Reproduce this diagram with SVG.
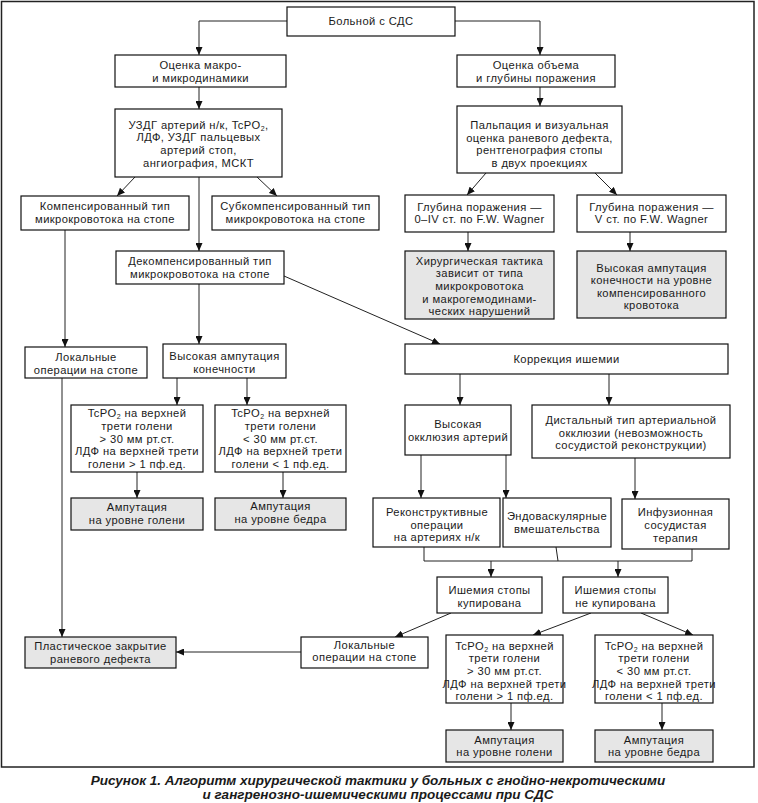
<svg xmlns="http://www.w3.org/2000/svg" width="758" height="803" viewBox="0 0 758 803">
<style>
.b{fill:#fff;stroke:#111;stroke-width:1.2}
.g{fill:#e6e6e6;stroke:#111;stroke-width:1.2}
text{font-family:"Liberation Sans",Arial,sans-serif;font-size:11.2px;letter-spacing:0.4px;fill:#1a1a1a;text-anchor:middle}
.s{font-size:7px}
.c{fill:none;stroke:#222;stroke-width:1}
.cap{font-weight:bold;font-style:italic;font-size:13.5px;letter-spacing:0}
</style>
<defs>
<marker id="a" viewBox="0 0 8 7" markerWidth="8" markerHeight="7" refX="8" refY="3.5" orient="auto" markerUnits="userSpaceOnUse">
<path d="M0,0 L8,3.5 L0,7 z" fill="#111"/>
</marker>
</defs>
<rect x="1.5" y="1.5" width="752.5" height="765.5" fill="#fff" stroke="#222" stroke-width="1.5"/>

<g id="connectors">
<polyline class="c" points="287,21 199,21 199,55" marker-end="url(#a)"/>
<polyline class="c" points="455,21 540,21 540,55" marker-end="url(#a)"/>
<line class="c" x1="199" y1="87" x2="199" y2="109" marker-end="url(#a)"/>
<line class="c" x1="540" y1="87" x2="540" y2="106" marker-end="url(#a)"/>
<line class="c" x1="135" y1="177" x2="117" y2="196" marker-end="url(#a)"/>
<line class="c" x1="257" y1="177" x2="277" y2="196" marker-end="url(#a)"/>
<line class="c" x1="199" y1="177" x2="199" y2="251" marker-end="url(#a)"/>
<line class="c" x1="486" y1="173" x2="467" y2="195" marker-end="url(#a)"/>
<line class="c" x1="595" y1="173" x2="617" y2="195" marker-end="url(#a)"/>
<line class="c" x1="468" y1="232" x2="468" y2="251" marker-end="url(#a)"/>
<line class="c" x1="630" y1="232" x2="630" y2="251" marker-end="url(#a)"/>
<line class="c" x1="65" y1="230" x2="65" y2="347" marker-end="url(#a)"/>
<line class="c" x1="199" y1="284" x2="199" y2="344" marker-end="url(#a)"/>
<line class="c" x1="284" y1="276" x2="440" y2="344" marker-end="url(#a)"/>
<line class="c" x1="460" y1="374" x2="460" y2="405" marker-end="url(#a)"/>
<line class="c" x1="609" y1="374" x2="609" y2="405" marker-end="url(#a)"/>
<line class="c" x1="177" y1="378" x2="177" y2="405" marker-end="url(#a)"/>
<line class="c" x1="247" y1="378" x2="247" y2="405" marker-end="url(#a)"/>
<line class="c" x1="137" y1="472" x2="137" y2="498" marker-end="url(#a)"/>
<line class="c" x1="283" y1="472" x2="283" y2="498" marker-end="url(#a)"/>
<line class="c" x1="421" y1="455" x2="421" y2="498" marker-end="url(#a)"/>
<line class="c" x1="506" y1="455" x2="506" y2="498" marker-end="url(#a)"/>
<line class="c" x1="635" y1="458" x2="635" y2="499" marker-end="url(#a)"/>
<polyline class="c" points="424,547 424,561 692,561 692,549"/>
<line class="c" x1="556" y1="547" x2="558" y2="561"/>
<line class="c" x1="491" y1="561" x2="491" y2="577" marker-end="url(#a)"/>
<line class="c" x1="618" y1="561" x2="618" y2="577" marker-end="url(#a)"/>
<line class="c" x1="451" y1="613" x2="395" y2="637" marker-end="url(#a)"/>
<line class="c" x1="591" y1="613" x2="533" y2="635" marker-end="url(#a)"/>
<line class="c" x1="641" y1="613" x2="693" y2="635" marker-end="url(#a)"/>
<line class="c" x1="301" y1="652" x2="176" y2="652" marker-end="url(#a)"/>
<line class="c" x1="62" y1="378" x2="62" y2="637" marker-end="url(#a)"/>
<line class="c" x1="511" y1="703" x2="511" y2="730" marker-end="url(#a)"/>
<line class="c" x1="662" y1="703" x2="662" y2="730" marker-end="url(#a)"/>
</g>

<g id="n1"><rect class="b" x="287" y="7" width="168" height="29"/><text x="371" y="25">Больной с СДС</text></g>
<g id="n2"><rect class="b" x="115" y="55" width="171" height="32"/><text x="200.5" y="69.2">Оценка макро-</text><text x="200.5" y="81.8">и микродинамики</text></g>
<g id="n3"><rect class="b" x="457" y="55" width="158" height="32"/><text x="536" y="69.2">Оценка объема</text><text x="536" y="81.8">и глубины поражения</text></g>
<g id="n4"><rect class="b" x="115" y="109" width="167" height="68"/>
<text x="198.5" y="128.8">УЗДГ артерий н/к, TcPO<tspan class="s" dy="2">2</tspan><tspan dy="-2">,</tspan></text>
<text x="198.5" y="141.4">ЛДФ, УЗДГ пальцевых</text>
<text x="198.5" y="154">артерий стоп,</text>
<text x="198.5" y="166.6">ангиография, МСКТ</text></g>
<g id="n5"><rect class="b" x="457" y="106" width="165" height="67"/>
<text x="539.5" y="129.1">Пальпация и визуальная</text>
<text x="539.5" y="141.7">оценка раневого дефекта,</text>
<text x="539.5" y="154.3">рентгенография стопы</text>
<text x="539.5" y="166.9">в двух проекциях</text></g>
<g id="n6"><rect class="b" x="21" y="196" width="168" height="34"/><text x="105" y="210.2">Компенсированный тип</text><text x="105" y="222.8">микрокровотока на стопе</text></g>
<g id="n7"><rect class="b" x="212" y="196" width="167" height="34"/><text x="295.5" y="210.2">Субкомпенсированный тип</text><text x="295.5" y="222.8">микрокровотока на стопе</text></g>
<g id="n8"><rect class="b" x="116" y="251" width="168" height="33"/><text x="200" y="265.2">Декомпенсированный тип</text><text x="200" y="277.8">микрокровотока на стопе</text></g>
<g id="n9"><rect class="b" x="405" y="195" width="149" height="37"/><text x="479.5" y="210.7">Глубина поражения —</text><text x="479.5" y="223.3">0–IV ст. по F.W. Wagner</text></g>
<g id="n10"><rect class="b" x="577" y="195" width="149" height="37"/><text x="651.5" y="210.7">Глубина поражения —</text><text x="651.5" y="223.3">V ст. по F.W. Wagner</text></g>
<g id="n11"><rect class="g" x="405" y="251" width="149" height="68"/>
<text x="479.5" y="264.8">Хирургическая тактика</text>
<text x="479.5" y="277.4">зависит от типа</text>
<text x="479.5" y="290">микрокровотока</text>
<text x="479.5" y="302.6">и макрогемодинами-</text>
<text x="479.5" y="315.2">ческих нарушений</text></g>
<g id="n12"><rect class="g" x="577" y="251" width="149" height="67"/>
<text x="651.5" y="271.6">Высокая ампутация</text>
<text x="651.5" y="284.2">конечности на уровне</text>
<text x="651.5" y="296.8">компенсированного</text>
<text x="651.5" y="309.4">кровотока</text></g>
<g id="n13"><rect class="b" x="25" y="347" width="122" height="31"/><text x="86" y="361.2">Локальные</text><text x="86" y="373.8">операции на стопе</text></g>
<g id="n14"><rect class="b" x="163" y="344" width="123" height="34"/><text x="224.5" y="360.2">Высокая ампутация</text><text x="224.5" y="372.8">конечности</text></g>
<g id="n15"><rect class="b" x="405" y="344" width="323" height="30"/><text x="566.5" y="363">Коррекция ишемии</text></g>
<g id="n16"><rect class="b" x="405" y="405" width="106" height="50"/><text x="458" y="428.2">Высокая</text><text x="458" y="440.8">окклюзия артерий</text></g>
<g id="n17"><rect class="b" x="532" y="405" width="198" height="53"/>
<text x="631" y="423.9">Дистальный тип артериальной</text>
<text x="631" y="436.5">окклюзии (невозможность</text>
<text x="631" y="449.1">сосудистой реконструкции)</text></g>
<g id="n18"><rect class="b" x="71" y="405" width="132" height="67"/>
<text x="137" y="417.3">TcPO<tspan class="s" dy="2">2</tspan><tspan dy="-2"> на верхней</tspan></text>
<text x="137" y="429.9">трети голени</text>
<text x="137" y="442.5">&gt; 30 мм рт.ст.</text>
<text x="137" y="455.1">ЛДФ на верхней трети</text>
<text x="137" y="467.7">голени &gt; 1 пф.ед.</text></g>
<g id="n19"><rect class="b" x="215" y="405" width="131" height="67"/>
<text x="280.5" y="417.3">TcPO<tspan class="s" dy="2">2</tspan><tspan dy="-2"> на верхней</tspan></text>
<text x="280.5" y="429.9">трети голени</text>
<text x="280.5" y="442.5">&lt; 30 мм рт.ст.</text>
<text x="280.5" y="455.1">ЛДФ на верхней трети</text>
<text x="280.5" y="467.7">голени &lt; 1 пф.ед.</text></g>
<g id="n20"><rect class="g" x="71" y="498" width="132" height="32"/><text x="137" y="511.2">Ампутация</text><text x="137" y="523.8">на уровне голени</text></g>
<g id="n21"><rect class="g" x="215" y="498" width="131" height="32"/><text x="280.5" y="510.2">Ампутация</text><text x="280.5" y="522.8">на уровне бедра</text></g>
<g id="n22"><rect class="b" x="373" y="498" width="127" height="49"/><text x="437" y="515.9">Реконструктивные</text><text x="437" y="528.5">операции</text><text x="437" y="541.1">на артериях н/к</text></g>
<g id="n23"><rect class="b" x="503" y="498" width="108" height="49"/><text x="557" y="520.2">Эндоваскулярные</text><text x="557" y="532.8">вмешательства</text></g>
<g id="n24"><rect class="b" x="622" y="499" width="107" height="50"/><text x="675.5" y="516.4">Инфузионная</text><text x="675.5" y="529">сосудистая</text><text x="675.5" y="541.6">терапия</text></g>
<g id="n25"><rect class="b" x="437" y="577" width="105" height="36"/><text x="489.5" y="594.2">Ишемия стопы</text><text x="489.5" y="606.8">купирована</text></g>
<g id="n26"><rect class="b" x="563" y="577" width="105" height="36"/><text x="615.5" y="594.2">Ишемия стопы</text><text x="615.5" y="606.8">не купирована</text></g>
<g id="n27"><rect class="b" x="301" y="637" width="127" height="31"/><text x="364.5" y="648.7">Локальные</text><text x="364.5" y="661.3">операции на стопе</text></g>
<g id="n28"><rect class="g" x="25" y="637" width="151" height="31"/><text x="100.5" y="650.2">Пластическое закрытие</text><text x="100.5" y="662.8">раневого дефекта</text></g>
<g id="n29"><rect class="b" x="446" y="635" width="117" height="68"/>
<text x="504.5" y="649.8">TcPO<tspan class="s" dy="2">2</tspan><tspan dy="-2"> на верхней</tspan></text>
<text x="504.5" y="662.4">трети голени</text>
<text x="504.5" y="675">&gt; 30 мм рт.ст.</text>
<text x="504.5" y="687.6">ЛДФ на верхней трети</text>
<text x="504.5" y="700.2">голени &gt; 1 пф.ед.</text></g>
<g id="n30"><rect class="b" x="595" y="635" width="118" height="68"/>
<text x="654" y="649.8">TcPO<tspan class="s" dy="2">2</tspan><tspan dy="-2"> на верхней</tspan></text>
<text x="654" y="662.4">трети голени</text>
<text x="654" y="675">&lt; 30 мм рт.ст.</text>
<text x="654" y="687.6">ЛДФ на верхней трети</text>
<text x="654" y="700.2">голени &lt; 1 пф.ед.</text></g>
<g id="n31"><rect class="g" x="446" y="730" width="117" height="32"/><text x="504.5" y="743.7">Ампутация</text><text x="504.5" y="756.3">на уровне голени</text></g>
<g id="n32"><rect class="g" x="595" y="730" width="118" height="32"/><text x="654" y="743.7">Ампутация</text><text x="654" y="756.3">на уровне бедра</text></g>

<g id="caption">
<text class="cap" x="378" y="785">Рисунок 1. Алгоритм хирургической тактики у больных с гнойно-некротическими</text>
<text class="cap" x="378" y="798.5">и гангренозно-ишемическими процессами при СДС</text>
</g>
</svg>
